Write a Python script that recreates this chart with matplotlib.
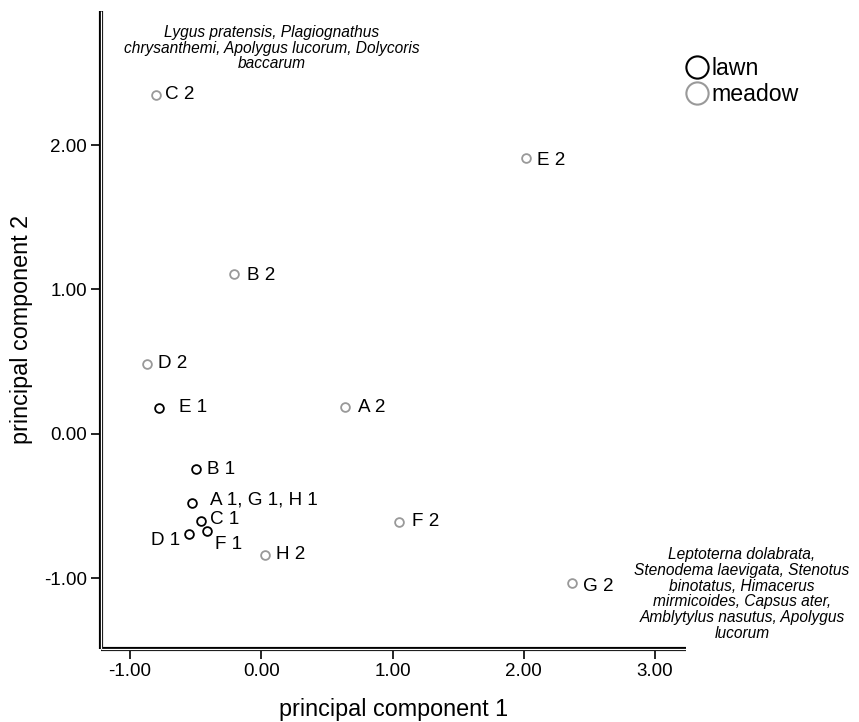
import matplotlib.pyplot as plt
from matplotlib.lines import Line2D

plt.rcParams['font.family'] = ['Liberation Sans', 'DejaVu Sans']

# Datos
etiquetas = ['C 2', 'E 2', 'B 2', 'D 2', 'E 1', 'A 2', 'B 1', 'A 1, G 1, H 1',
             'C 1', 'F 1', 'D 1', 'H 2', 'F 2', 'G 2']
pc1 = [-0.80, 2.02, -0.21, -0.87, -0.78, 0.64, -0.50, -0.53,
       -0.46, -0.41, -0.55, 0.03, 1.05, 2.37]
pc2 = [2.35, 1.91, 1.11, 0.48, 0.18, 0.185, -0.245, -0.48,
       -0.605, -0.675, -0.695, -0.84, -0.61, -1.035]
grupo = ['meadow', 'meadow', 'meadow', 'meadow', 'lawn', 'meadow', 'lawn', 'lawn',
         'lawn', 'lawn', 'lawn', 'meadow', 'meadow', 'meadow']

# desplazamiento de etiquetas (px)
desp = {'C 2': (9, 0), 'E 2': (11, -2), 'B 2': (13, -2), 'D 2': (11, 1),
        'E 1': (20, 0), 'A 2': (13, 0), 'B 1': (11, 0), 'A 1, G 1, H 1': (18, 3),
        'C 1': (9, 2), 'F 1': (8, -13), 'D 1': (-9, -6), 'H 2': (11, 0),
        'F 2': (13, 0), 'G 2': (11, -3)}

colores = {'lawn': 'black', 'meadow': '#999999'}

fig = plt.figure(figsize=(8.59, 7.22), dpi=100)
ax = fig.add_axes([0.1176, 0.1011, 0.681, 0.8837])

for x, y, g, t in zip(pc1, pc2, grupo, etiquetas):
    ax.plot(x, y, 'o', ms=6.3, mfc='white', mec=colores[g], mew=1.3, zorder=3)
    dx, dy = desp[t]
    ax.annotate(t, (x, y), xytext=(dx * 0.72, dy * 0.72), textcoords='offset points',
                fontsize=13.6, va='center', ha='right' if dx < 0 else 'left')

ax.set_xlim(-1.221, 3.236)
ax.set_ylim(-1.492, 2.93)
ax.set_xticks([-1, 0, 1, 2, 3])
ax.set_yticks([-1, 0, 1, 2])
ax.set_xticklabels(['%.2f' % v for v in [-1, 0, 1, 2, 3]])
ax.set_yticklabels(['%.2f' % v for v in [-1, 0, 1, 2]])
ax.tick_params(labelsize=13.5, length=7, width=1.2, direction='out', pad=3)

for s in ax.spines.values():
    s.set_visible(False)

# ejes con doble línea
for (xs, ys) in [([0, 0], [0, 1]), ([0, 1], [0, 0])]:
    ax.plot(xs, ys, color='black', lw=3.0, transform=ax.transAxes, clip_on=False,
            solid_capstyle='butt', zorder=4)
    ax.plot(xs, ys, color='white', lw=0.9, transform=ax.transAxes, clip_on=False,
            solid_capstyle='butt', zorder=5)

ax.set_xlabel('principal component 1', fontsize=16.8, labelpad=13)
ax.set_ylabel('principal component 2', fontsize=16.8, labelpad=8)

texto_arriba = ('Lygus pratensis, Plagiognathus\nchrysanthemi, Apolygus lucorum, Dolycoris\n'
                'baccarum')
texto_abajo = ('Leptoterna dolabrata,\nStenodema laevigata, Stenotus\nbinotatus, Himacerus\n'
               'mirmicoides, Capsus ater,\nAmblytylus nasutus, Apolygus\nlucorum')
fig.text(272 / 859, 1 - 48 / 722, texto_arriba, style='italic', fontsize=11.2,
         ha='center', va='center', linespacing=1.05)
fig.text(742 / 859, 1 - 594 / 722, texto_abajo, style='italic', fontsize=11.2,
         ha='center', va='center', linespacing=1.05)

handles = [Line2D([], [], ls='none', marker='o', ms=16, mfc='white', mec=colores[g], mew=1.5)
           for g in ['lawn', 'meadow']]
ax.legend(handles, ['lawn', 'meadow'], loc='upper left', bbox_to_anchor=(685 / 859, 1 - 57 / 722),
          bbox_transform=fig.transFigure, frameon=False, fontsize=16.7, handlelength=1,
          handletextpad=0.15, borderpad=0, borderaxespad=0, labelspacing=0.15)

plt.savefig('out.png')
